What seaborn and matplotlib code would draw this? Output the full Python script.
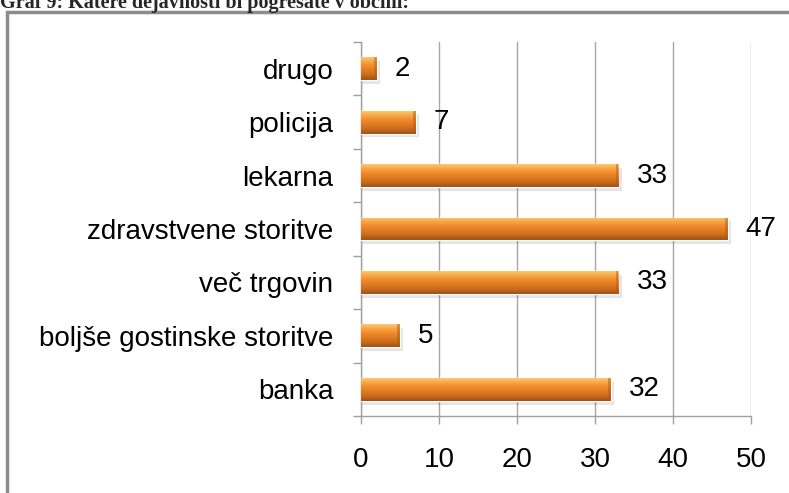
import numpy as np
import matplotlib
matplotlib.use("Agg")
import matplotlib.pyplot as plt
import matplotlib.patches as mpatches
from matplotlib.colors import LinearSegmentedColormap
import seaborn as sns

# Podatki
kategorije = ['drugo', 'policija', 'lekarna', 'zdravstvene storitve',
              'več trgovin', 'boljše gostinske storitve', 'banka']
vrednosti = [2, 7, 33, 47, 33, 5, 32]
x_ticks = [0, 10, 20, 30, 40, 50]
naslov = "Graf 9: Katere dejavnosti bi pogrešate v občini:"

sns.set_style("white")
plt.rcParams['font.family'] = ['Liberation Sans', 'DejaVu Sans']

fig = plt.figure(figsize=(7.89, 4.93), dpi=100)
ax = fig.add_axes([361 / 789, 1 - 416 / 493, 390 / 789, 374 / 493])

sns.barplot(x=vrednosti, y=kategorije, orient='h', width=0.43,
            color='#E8822A', ax=ax, zorder=3)

# gradient na stolpcih
cmap = LinearSegmentedColormap.from_list(
    "oranzna", ["#FCC874", "#F7A443", "#EE8A2C", "#E07A22", "#C86A1C", "#9C5216"])
grad = np.linspace(0, 1, 64).reshape(-1, 1)
for p in list(ax.patches):
    x0, y0 = p.get_x(), p.get_y()
    w, h = p.get_width(), p.get_height()
    # senca
    ax.add_patch(mpatches.Rectangle((x0, y0 + 0.07), w + 0.4, h, color='#000000',
                                    alpha=0.10, lw=0, zorder=2))
    im = ax.imshow(grad, cmap=cmap, aspect='auto', extent=(x0, x0 + w, y0 + h, y0),
                   zorder=4, interpolation='bicubic')
    im.set_clip_path(p)
    # temnejši konec stolpca
    ax.add_patch(mpatches.Rectangle((x0 + w - 0.35, y0), 0.35, h, color='#A85A18',
                                    alpha=0.45, lw=0, zorder=5))

for i, v in enumerate(vrednosti):
    ax.annotate(str(v), (v, i), xytext=(13, 0), textcoords='offset points',
                ha='left', va='center', fontsize=20, color='black')

ax.set_xlim(0, 50)
ax.set_ylim(len(kategorije) - 0.5, -0.5)
ax.set_xticks(x_ticks)
ax.set_xticklabels([str(t) for t in x_ticks])
ax.set_yticks(range(len(kategorije)))
ax.set_yticklabels(kategorije)
ax.set_yticks(np.arange(-0.5, len(kategorije), 1), minor=True)

ax.tick_params(axis='y', which='major', length=0, pad=20, labelsize=20, labelcolor='black')
ax.tick_params(axis='y', which='minor', length=6, width=1, color='#A0A0A0', direction='out', left=True)
ax.tick_params(axis='x', which='major', length=6, width=1, color='#A0A0A0', direction='out',
               pad=16, labelsize=20, labelcolor='black', bottom=True)
ax.set_xlabel('')
ax.set_ylabel('')

ax.grid(axis='x', color='#A6A6A6', lw=1, zorder=0)
ax.grid(axis='y', visible=False)
ax.set_axisbelow(True)
for s in ['top', 'right']:
    ax.spines[s].set_visible(False)
for s in ['left', 'bottom']:
    ax.spines[s].set_color('#A0A0A0')
    ax.spines[s].set_linewidth(1)

# okvir grafa
fig.add_artist(mpatches.Rectangle((7 / 789, -0.02), 1.0, 1 - 12 / 493 + 0.02,
                                  transform=fig.transFigure, fill=False,
                                  edgecolor='#8C8C8C', lw=2.5))

fig.text(0.0, 1 - 8 / 493, naslov, ha='left', va='baseline', fontsize=14.5,
         fontweight='bold', family=['Liberation Serif', 'DejaVu Serif'])

plt.savefig('out.png', dpi=100)
